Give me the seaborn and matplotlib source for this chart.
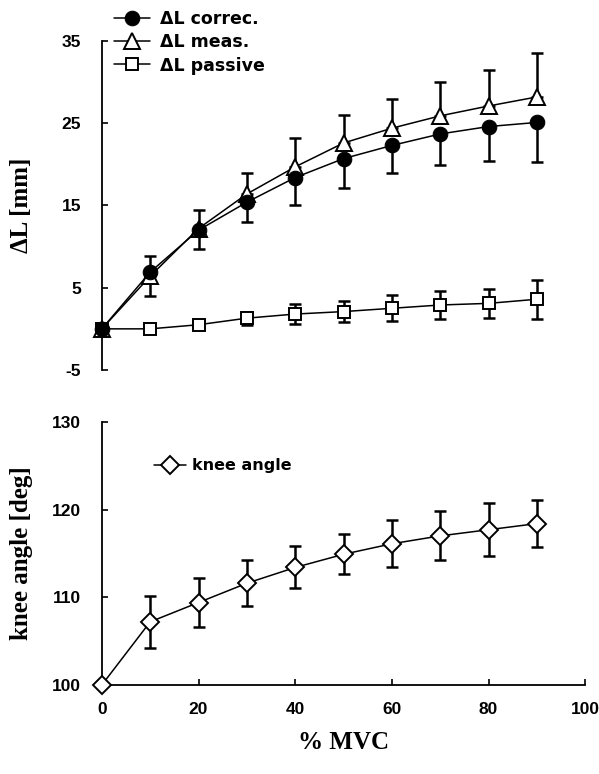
import matplotlib
matplotlib.use('Agg')
import matplotlib.pyplot as plt
import seaborn as sns
import numpy as np

# ── Data ───────────────────────────────────────────────────────────
mvc = [0, 10, 20, 30, 40, 50, 60, 70, 80, 90]

dl_correc  = [0, 6.9, 12.0, 15.4, 18.4, 20.7, 22.3, 23.7, 24.6, 25.1]
correc_sd  = [0, 2.9, 2.3, 2.4, 3.3, 3.6, 3.3, 3.8, 4.2, 4.8]
dl_meas    = [0, 6.4, 12.2, 16.4, 19.7, 22.6, 24.4, 25.9, 27.1, 28.2]
meas_sd    = [0, 2.5, 2.3, 2.6, 3.5, 3.4, 3.5, 4.1, 4.4, 5.4]
dl_passive = [0, 0.0, 0.5, 1.3, 1.8, 2.1, 2.5, 2.9, 3.1, 3.6]
passive_sd = [0, 0.0, 0.2, 0.8, 1.2, 1.3, 1.6, 1.7, 1.8, 2.4]

knee    = [100, 107.2, 109.4, 111.6, 113.4, 114.9, 116.1, 117.0, 117.7, 118.4]
knee_sd = [0, 3.0, 2.75, 2.6, 2.4, 2.3, 2.7, 2.8, 3.0, 2.7]

dl_ticks   = [-5, 5, 15, 25, 35]
knee_ticks = [100, 110, 120, 130]
x_ticks    = [0, 20, 40, 60, 80, 100]

sns.set_style('ticks')
plt.rcParams['font.family'] = ['Liberation Sans', 'DejaVu Sans']
plt.rcParams['font.weight'] = 'bold'
for key in ['text.color', 'axes.labelcolor', 'xtick.color', 'ytick.color', 'axes.edgecolor']:
    plt.rcParams[key] = 'black'

fig = plt.figure(figsize=(5.99, 7.74), dpi=100)
ax1 = fig.add_axes([0.170, 0.522, 0.807, 0.425])
ax2 = fig.add_axes([0.170, 0.115, 0.807, 0.340])

tick_font = dict(fontsize=12.5, fontweight='bold', family='Liberation Sans')
label_font = dict(fontsize=18, fontweight='bold', family='Liberation Serif')
line_kw = dict(color='black', linewidth=1.1)
err_kw = dict(fmt='none', ecolor='black', elinewidth=1.8, capsize=4.5,
              capthick=1.8, clip_on=False, zorder=2)

# ── Top panel: ΔL ──────────────────────────────────────────────────
zeros = [0] * len(mvc)
ax1.errorbar(mvc, dl_correc, yerr=[correc_sd, zeros], **err_kw)
ax1.errorbar(mvc, dl_meas, yerr=[zeros, meas_sd], **err_kw)
ax1.errorbar(mvc, dl_passive, yerr=passive_sd, **err_kw)

sns.lineplot(x=mvc, y=dl_passive, ax=ax1, marker='s', markersize=9,
             markerfacecolor='white', markeredgecolor='black', markeredgewidth=1.4,
             label='\u0394L passive', clip_on=False, zorder=3, **line_kw)
sns.lineplot(x=mvc, y=dl_meas, ax=ax1, marker='^', markersize=12,
             markerfacecolor='white', markeredgecolor='black', markeredgewidth=1.4,
             label='\u0394L meas.', clip_on=False, zorder=4, **line_kw)
sns.lineplot(x=mvc, y=dl_correc, ax=ax1, marker='o', markersize=10.5,
             markerfacecolor='black', markeredgecolor='black',
             label='\u0394L correc.', clip_on=False, zorder=5, **line_kw)

ax1.set_xlim(0, 100)
ax1.set_ylim(-5, 35)
ax1.set_yticks(dl_ticks)
ax1.set_yticklabels([str(t) for t in dl_ticks], **tick_font)
ax1.set_xticks([])
for s in ['top', 'right', 'bottom']:
    ax1.spines[s].set_visible(False)
ax1.spines['left'].set_linewidth(1.3)
ax1.tick_params(axis='y', direction='in', length=4, width=1.2, pad=15)
ax1.set_ylabel('\u0394L [mm]', **label_font)
ax1.yaxis.set_label_coords(-0.143, 0.5)

h, l = ax1.get_legend_handles_labels()
order = [2, 1, 0]
ax1.legend([h[i] for i in order], [l[i] for i in order], loc='upper left',
           bbox_to_anchor=(0.01, 1.115), frameon=False, handlelength=2.1,
           handletextpad=0.6, labelspacing=0.3, borderaxespad=0,
           prop=dict(family='DejaVu Sans', weight='bold', size=12.5))

# ── Bottom panel: knee angle ───────────────────────────────────────
ax2.errorbar(mvc, knee, yerr=knee_sd, **err_kw)
sns.lineplot(x=mvc, y=knee, ax=ax2, marker='D', markersize=9,
             markerfacecolor='white', markeredgecolor='black', markeredgewidth=1.4,
             label='knee angle', clip_on=False, zorder=3, **line_kw)

ax2.set_xlim(0, 100)
ax2.set_ylim(100, 130)
ax2.set_yticks(knee_ticks)
ax2.set_yticklabels([str(t) for t in knee_ticks], **tick_font)
ax2.set_xticks(x_ticks)
ax2.set_xticklabels([str(t) for t in x_ticks], **tick_font)
for s in ['top', 'right']:
    ax2.spines[s].set_visible(False)
ax2.spines['left'].set_linewidth(1.3)
ax2.spines['bottom'].set_linewidth(1.3)
ax2.tick_params(axis='y', direction='in', length=4, width=1.2, pad=15)
ax2.tick_params(axis='x', direction='in', length=4, width=1.2, pad=12)
ax2.set_ylabel('knee angle [deg]', **label_font)
ax2.yaxis.set_label_coords(-0.143, 0.5)
ax2.set_xlabel('% MVC', labelpad=10, **label_font)

ax2.legend(loc='upper left', bbox_to_anchor=(0.095, 0.885), frameon=False,
           handlelength=2.0, handletextpad=0.4, borderaxespad=0,
           prop=dict(family='DejaVu Sans', weight='bold', size=11.5))

fig.savefig('out.png', dpi=100)
